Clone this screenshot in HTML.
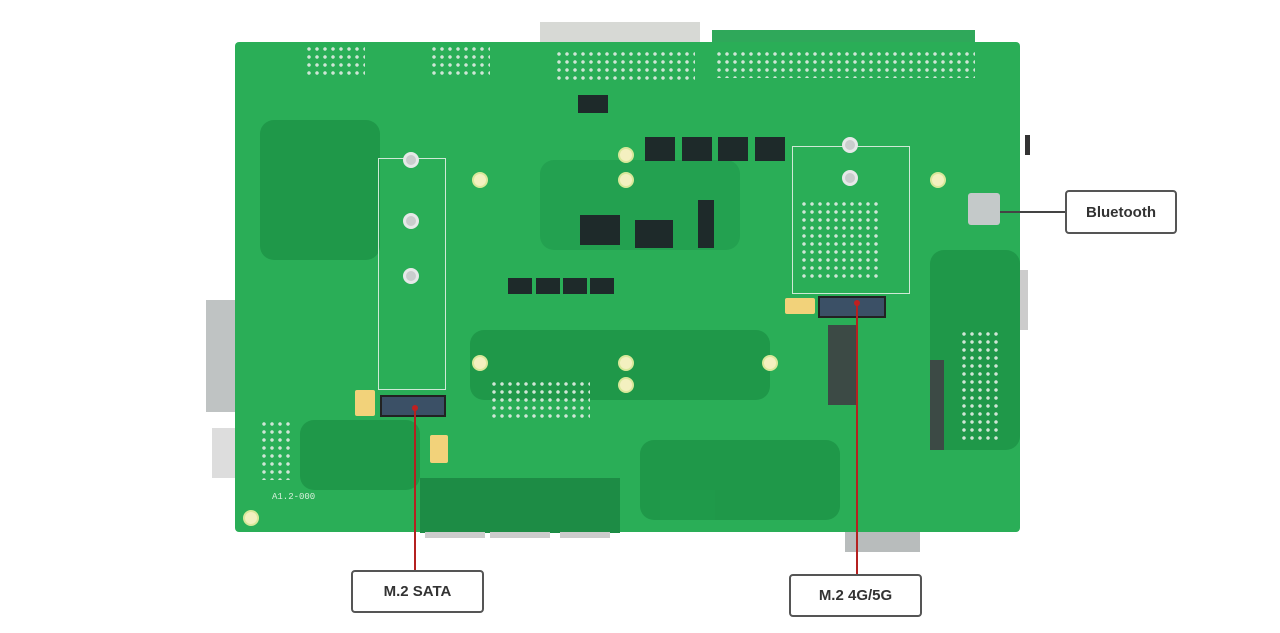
<!DOCTYPE html>
<html><head><meta charset="utf-8"><style>
body{margin:0;width:1280px;height:633px;background:#fff;position:relative;overflow:hidden;font-family:"Liberation Sans",sans-serif}
div{position:absolute;box-sizing:border-box}
.b{background:#2aae57}
.d{background:#1f9849;border-radius:14px}
.chip{background:#1e2a2a}
.hole{width:16px;height:16px;border-radius:50%;background:#f4f0c0;border:2px solid #d9e89a}
.scr{width:16px;height:16px;border-radius:50%;background:#c9cdcd;border:3px solid #e6e8e8}
.lab{border:2px solid #555;border-radius:4px;background:#fff;font-weight:bold;color:#333;font-size:15px;display:flex;align-items:center;justify-content:center}
.wl{border:1px solid #cfe9d6}
.pads{background-image:radial-gradient(circle,#cfe6d6 1.5px,transparent 2px);background-size:8px 8px}
</style></head><body>
<div style="left:540px;top:22px;width:160px;height:22px;background:#d7d9d5"></div>
<div style="left:712px;top:30px;width:263px;height:14px;background:#2fa85a"></div>
<div style="left:206px;top:300px;width:32px;height:112px;background:#bfc3c3"></div>
<div style="left:212px;top:428px;width:26px;height:50px;background:#ddd"></div>
<div class="b" style="left:235px;top:42px;width:785px;height:490px;border-radius:4px"></div>
<div style="left:1020px;top:270px;width:8px;height:60px;background:#ccc"></div>
<div style="left:1025px;top:135px;width:5px;height:20px;background:#333"></div>
<div class="d" style="left:260px;top:120px;width:120px;height:140px"></div>
<div class="d" style="left:470px;top:330px;width:300px;height:70px"></div>
<div class="d" style="left:640px;top:440px;width:200px;height:80px"></div>
<div class="d" style="left:300px;top:420px;width:120px;height:70px"></div>
<div class="d" style="left:540px;top:160px;width:200px;height:90px;background:#23a150"></div>
<div class="d" style="left:930px;top:250px;width:90px;height:200px"></div>
<div class="pads" style="left:305px;top:45px;width:60px;height:30px"></div>
<div class="pads" style="left:430px;top:45px;width:60px;height:30px"></div>
<div class="pads" style="left:555px;top:50px;width:140px;height:30px"></div>
<div class="pads" style="left:715px;top:50px;width:260px;height:28px"></div>
<div class="pads" style="left:490px;top:380px;width:100px;height:40px"></div>
<div class="pads" style="left:800px;top:200px;width:80px;height:80px"></div>
<div class="pads" style="left:960px;top:330px;width:40px;height:110px"></div>
<div class="pads" style="left:260px;top:420px;width:30px;height:60px"></div>
<div style="left:420px;top:478px;width:200px;height:55px;background:#1d8c45"></div>
<div style="left:425px;top:532px;width:60px;height:6px;background:#ccc"></div>
<div style="left:490px;top:532px;width:60px;height:6px;background:#ccc"></div>
<div style="left:560px;top:532px;width:50px;height:6px;background:#ccc"></div>
<div style="left:845px;top:532px;width:75px;height:20px;background:#b8bcbc"></div>
<div style="left:660px;top:490px;width:55px;height:30px;background:#1f9a4a"></div>
<div class="chip" style="left:645px;top:137px;width:30px;height:24px"></div>
<div class="chip" style="left:682px;top:137px;width:30px;height:24px"></div>
<div class="chip" style="left:718px;top:137px;width:30px;height:24px"></div>
<div class="chip" style="left:755px;top:137px;width:30px;height:24px"></div>
<div class="chip" style="left:580px;top:215px;width:40px;height:30px"></div>
<div class="chip" style="left:635px;top:220px;width:38px;height:28px"></div>
<div class="chip" style="left:578px;top:95px;width:30px;height:18px"></div>
<div class="chip" style="left:508px;top:278px;width:24px;height:16px"></div>
<div class="chip" style="left:536px;top:278px;width:24px;height:16px"></div>
<div class="chip" style="left:563px;top:278px;width:24px;height:16px"></div>
<div class="chip" style="left:590px;top:278px;width:24px;height:16px"></div>
<div class="chip" style="left:698px;top:200px;width:16px;height:48px"></div>
<div class="chip" style="left:828px;top:325px;width:28px;height:80px;background:#3c4a45"></div>
<div class="chip" style="left:930px;top:360px;width:14px;height:90px;background:#3c4a45"></div>
<div class="wl" style="left:378px;top:158px;width:68px;height:232px"></div>
<div class="wl" style="left:792px;top:146px;width:118px;height:148px"></div>
<div style="left:380px;top:395px;width:66px;height:22px;background:#3b5066;border:2px solid #222"></div>
<div style="left:818px;top:296px;width:68px;height:22px;background:#3b5066;border:2px solid #222"></div>
<div style="left:355px;top:390px;width:20px;height:26px;background:#f2d27a;border-radius:2px"></div>
<div style="left:430px;top:435px;width:18px;height:28px;background:#f2d27a;border-radius:2px"></div>
<div style="left:785px;top:298px;width:30px;height:16px;background:#f2d27a;border-radius:2px"></div>
<div style="left:968px;top:193px;width:32px;height:32px;background:#c4c9c9;border-radius:3px"></div>
<div class="scr" style="left:403px;top:152px"></div>
<div class="scr" style="left:403px;top:213px"></div>
<div class="scr" style="left:403px;top:268px"></div>
<div class="scr" style="left:842px;top:137px"></div>
<div class="scr" style="left:842px;top:170px"></div>
<div class="hole" style="left:472px;top:172px"></div>
<div class="hole" style="left:618px;top:147px"></div>
<div class="hole" style="left:618px;top:172px"></div>
<div class="hole" style="left:762px;top:355px"></div>
<div class="hole" style="left:618px;top:355px"></div>
<div class="hole" style="left:618px;top:377px"></div>
<div class="hole" style="left:472px;top:355px"></div>
<div class="hole" style="left:930px;top:172px"></div>
<div class="hole" style="left:243px;top:510px"></div>
<div style="left:272px;top:492px;color:#d8f0dc;font-size:9px;font-family:'Liberation Mono',monospace">A1.2-000</div>
<div style="left:414px;top:408px;width:2px;height:164px;background:#b52020"></div>
<div style="left:856px;top:302px;width:2px;height:274px;background:#b52020"></div>
<div style="left:412px;top:405px;width:6px;height:6px;border-radius:50%;background:#c02020"></div>
<div style="left:854px;top:300px;width:6px;height:6px;border-radius:50%;background:#c02020"></div>
<div style="left:1000px;top:211px;width:66px;height:2px;background:#444"></div>
<div class="lab" style="left:1065px;top:190px;width:112px;height:44px">Bluetooth</div>
<div class="lab" style="left:351px;top:570px;width:133px;height:43px">M.2 SATA</div>
<div class="lab" style="left:789px;top:574px;width:133px;height:43px">M.2 4G/5G</div>
</body></html>
